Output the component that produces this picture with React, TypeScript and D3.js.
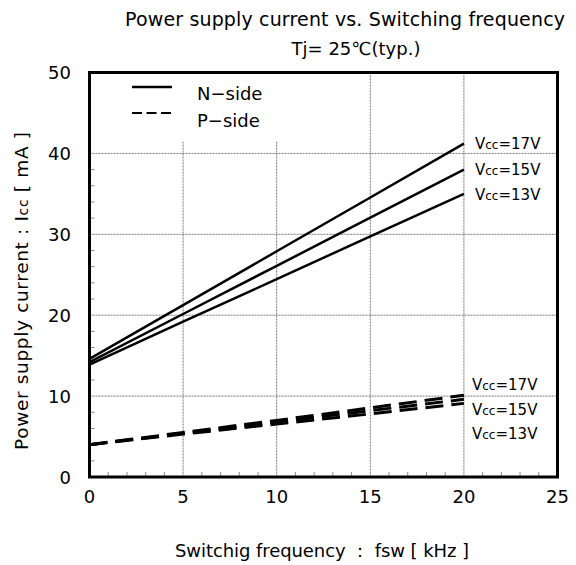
import React from "react";
import * as d3 from "d3";

const freqs = [0, 5, 10, 15, 20];
const nSide17 = [14.6, 21.25, 27.9, 34.55, 41.2];
const nSide15 = [14.2, 20.15, 26.1, 32.05, 38.0];
const nSide13 = [13.9, 19.2, 24.45, 29.75, 35.0];
const pSide17 = [4.0, 5.5, 7.0, 8.55, 10.1];
const pSide15 = [4.0, 5.4, 6.8, 8.2, 9.6];
const pSide13 = [4.0, 5.3, 6.55, 7.8, 9.1];
const xTicks = [0, 5, 10, 15, 20, 25];
const yTicks = [0, 10, 20, 30, 40, 50];
const nLabels = ["17", "15", "13"];
const pLabels = ["17", "15", "13"];

const FONT = "'DejaVu Sans', 'Noto Sans', sans-serif";

export default function App() {
  const W = 576, H = 565;
  const L = 89.5, R = 557.5, T = 72.5, B = 477;
  const x = d3.scaleLinear().domain([0, 25]).range([L, R]);
  const y = d3.scaleLinear().domain([0, 50]).range([B, T]);
  const line = d3.line<number>().x((_, i) => x(freqs[i])).y((d) => y(d));
  const nSeries = [nSide17, nSide15, nSide13];
  const pSeries = [pSide17, pSide15, pSide13];
  const xMinor = d3.range(0, 25.01, 1).filter((v) => v % 5 !== 0);
  const yMinor = d3.range(0, 50.01, 2).filter((v) => v % 10 !== 0);
  const nLabelY = [149, 175, 200];
  const pLabelY = [390, 415, 439];

  return (
    <svg width={W} height={H} style={{ position: "absolute", left: 0, top: 0, background: "#fff" }} fontFamily={FONT}>
      <rect x={0} y={0} width={W} height={H} fill="#fff" />
      {/* grid */}
      {xTicks.slice(1, -1).map((t) => (
        <line key={"gx" + t} x1={x(t)} x2={x(t)} y1={T} y2={B} stroke="#777" strokeWidth={1} strokeDasharray="2,1" />
      ))}
      {yTicks.slice(1, -1).map((t) => (
        <line key={"gy" + t} x1={L} x2={R} y1={y(t)} y2={y(t)} stroke="#777" strokeWidth={1} strokeDasharray="2,1" />
      ))}
      {/* minor ticks */}
      {xMinor.map((t) => (
        <line key={"mx" + t} x1={x(t)} x2={x(t)} y1={B} y2={B - 5} stroke="#888" strokeWidth={1} />
      ))}
      {yMinor.map((t) => (
        <line key={"my" + t} x1={L} x2={L + 5} y1={y(t)} y2={y(t)} stroke="#888" strokeWidth={1} />
      ))}
      {/* legend background */}
      <rect x={L} y={T} width={220} height={69} fill="#fff" />
      {/* series */}
      {nSeries.map((s, i) => (
        <path key={"n" + i} d={line(s) || ""} fill="none" stroke="#000" strokeWidth={2.5} />
      ))}
      {pSeries.map((s, i) => (
        <path key={"p" + i} d={line(s) || ""} fill="none" stroke="#000" strokeWidth={3} strokeDasharray="18,8" />
      ))}
      {/* frame */}
      <rect x={L} y={T} width={R - L} height={B - T} fill="none" stroke="#000" strokeWidth={3} />
      {/* legend */}
      <line x1={132} x2={172} y1={87} y2={87} stroke="#000" strokeWidth={2.5} />
      <line x1={132} x2={172} y1={113} y2={113} stroke="#000" strokeWidth={2} strokeDasharray="10,4.5" />
      <text x={197} y={100} fontSize={18}>N−side</text>
      <text x={197} y={127} fontSize={18}>P−side</text>
      {/* curve labels */}
      {nLabels.map((v, i) => (
        <text key={"nl" + i} x={475} y={nLabelY[i]} fontSize={15}>
          V<tspan fontSize={12}>cc</tspan>={v}V
        </text>
      ))}
      {pLabels.map((v, i) => (
        <text key={"pl" + i} x={472} y={pLabelY[i]} fontSize={15}>
          V<tspan fontSize={12}>cc</tspan>={v}V
        </text>
      ))}
      {/* tick labels */}
      {yTicks.map((t) => (
        <text key={"yt" + t} x={71} y={y(t) + 6.5} fontSize={18} textAnchor="end">{t}</text>
      ))}
      {xTicks.map((t) => (
        <text key={"xt" + t} x={x(t)} y={503} fontSize={18} textAnchor="middle">{t}</text>
      ))}
      {/* titles */}
      <text x={345} y={26} fontSize={19} textAnchor="middle" textLength={440} lengthAdjust="spacing">Power supply current vs. Switching frequency</text>
      <text x={356} y={55} fontSize={18} textAnchor="middle">Tj= 25℃(typ.)</text>
      <text x={322} y={557} fontSize={18} textAnchor="middle" textLength={294} lengthAdjust="spacing">Switchig frequency ： fsw [ kHz ]</text>
      <text transform="translate(28,291) rotate(-90)" fontSize={18.5} textAnchor="middle" textLength={318} lengthAdjust="spacing">
        Power supply current : I<tspan fontSize={14}>cc</tspan> [ mA ]
      </text>
    </svg>
  );
}
